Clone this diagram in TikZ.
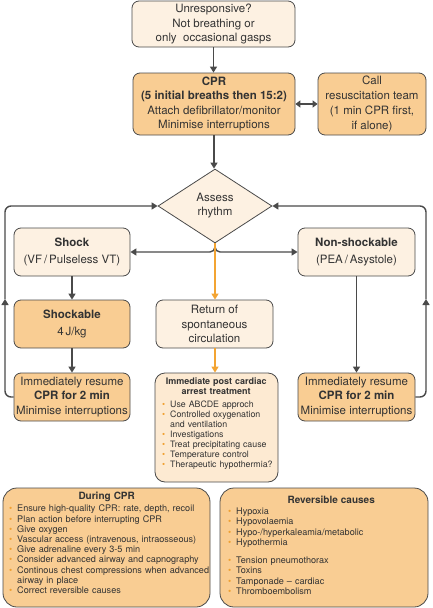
\documentclass[tikz,border=0pt]{standalone}
\usepackage{fontspec}
\setmainfont{TeX Gyre Heros}
\usetikzlibrary{shapes.geometric,arrows.meta}
\definecolor{lightf}{HTML}{FDF1E2}
\definecolor{postf}{HTML}{FDEAD2}
\definecolor{orf}{HTML}{F9CD93}
\definecolor{linec}{HTML}{4A4A4A}
\definecolor{txt}{HTML}{333333}
\definecolor{orl}{HTML}{F3A433}
\definecolor{bulc}{HTML}{F0A030}
\newcommand{\bitm}[1]{\par\hangindent=8pt\hangafter=1\noindent\makebox[8pt][l]{\textcolor{bulc}{\textbullet}}#1}
\begin{document}
\begin{tikzpicture}[x=1pt,y=-1pt,
  box/.style={draw=linec, line width=0.8pt, rounded corners=7pt, align=center, inner sep=0pt,
    font=\fontsize{11.5}{14.3}\selectfont, text=txt},
  light/.style={box, fill=lightf},
  dark/.style={box, fill=orf},
  big/.style={draw=linec, line width=0.8pt, rounded corners=14pt, fill=orf, inner sep=0pt, text=txt},
  arr/.style={draw=linec, line width=1.4pt, -{Triangle[width=7pt,length=6pt]}},
  darr/.style={draw=linec, line width=1.4pt, {Triangle[width=7pt,length=5pt]}-{Triangle[width=7pt,length=5pt]}},
  oarr/.style={draw=orl, line width=1.4pt, -{Triangle[width=7pt,length=6pt]}}
]
\useasboundingbox (0,0) rectangle (432,608);

\node[light, minimum width=163pt, minimum height=46pt] (top) at (213.5,24)
  {Unresponsive?\\Not breathing or\\only\ \ occasional gasps};
\node[dark, minimum width=162pt, minimum height=62pt] (cpr) at (214,104)
  {\textbf{CPR}\\\textbf{(5 initial breaths then 15:2)}\\Attach defibrillator/monitor\\Minimise interruptions};
\node[dark, minimum width=108pt, minimum height=62pt] (call) at (372,104)
  {Call\\resuscitation team\\[1.5pt](1 min CPR first,\\if alone)};
\node[draw=linec, line width=0.8pt, fill=lightf, shape=diamond, aspect=1.54, inner sep=0pt,
  minimum width=114pt, minimum height=74pt, align=center, text=txt,
  font=\fontsize{11.5}{14}\selectfont] (dia) at (215,206) {Assess\\rhythm};
\node[light, font=\fontsize{11.5}{17}\selectfont, minimum width=116pt, minimum height=48pt] (shock) at (72,252)
  {\textbf{Shock}\\(VF\,/\,Pulseless VT)};
\node[light, font=\fontsize{11.5}{17}\selectfont, minimum width=117pt, minimum height=48pt] (nons) at (356.5,252)
  {\textbf{Non-shockable}\\(PEA\,/\,Asystole)};
\node[dark, font=\fontsize{11.5}{17}\selectfont, minimum width=116pt, minimum height=48pt] (shk) at (72,324)
  {\textbf{Shockable}\\4\,J/kg};
\node[light, minimum width=117pt, minimum height=48pt] (ret) at (214.5,324)
  {Return of\\spontaneous\\circulation};
\node[dark, font=\fontsize{11.5}{14.5}\selectfont, minimum width=116pt, minimum height=48pt] (resL) at (72,397)
  {Immediately resume\\\textbf{CPR for 2 min}\\Minimise interruptions};
\node[dark, font=\fontsize{11.5}{14.5}\selectfont, minimum width=117pt, minimum height=48pt] (resR) at (356.5,397)
  {Immediately resume\\\textbf{CPR for 2 min}\\Minimise interruptions};

\node[draw=linec, line width=0.8pt, rounded corners=10pt, fill=postf, text=txt,
  minimum width=123pt, minimum height=109pt, inner sep=0pt] (post) at (216.5,427.5) {};
\node[anchor=north west, text width=118pt, inner sep=0pt, text=txt, font=\fontsize{8.8}{10}\selectfont]
  (posttxt) at (162,378) {%
  {\centering\hspace*{-10pt}\fontsize{9}{9.5}\selectfont\textbf{Immediate post cardiac}\\\hspace*{-10pt}\textbf{arrest treatment}\par}\vspace{3pt}
  \bitm{Use ABCDE approch}
  \bitm{Controlled oxygenation\newline and ventilation}
  \bitm{Investigations}
  \bitm{Treat precipitating cause}
  \bitm{Temperature control}
  \bitm{Therapeutic hypothermia?}};

\node[big, minimum width=207pt, minimum height=119pt] (dur) at (106.5,547.5) {};
\node[anchor=north west, text width=205pt, inner sep=0pt, text=txt, font=\fontsize{9.1}{10.2}\selectfont]
  (durtxt) at (9,492) {%
  {\centering\hspace*{-10pt}\fontsize{10}{12}\selectfont\textbf{During CPR}\par}\vspace{2pt}
  \bitm{Ensure high-quality CPR: rate, depth, recoil}
  \bitm{Plan action before interrupting CPR}
  \bitm{Give oxygen}
  \bitm{Vascular access (intravenous, intraosseous)}
  \bitm{Give adrenaline every 3-5 min}
  \bitm{Consider advanced airway and capnography}
  \bitm{Continous chest compressions when advanced\newline airway in place}
  \bitm{Correct reversible causes}};

\node[big, minimum width=208pt, minimum height=119pt] (rev) at (324,547.5) {};
\node[anchor=north west, text width=190pt, inner sep=0pt, text=txt, font=\fontsize{9.1}{10.5}\selectfont]
  (revtxt) at (228,496) {%
  {\centering\hspace*{16pt}\fontsize{10}{12}\selectfont\textbf{Reversible causes}\par}\vspace{0pt}
  \bitm{Hypoxia}
  \bitm{Hypovolaemia}
  \bitm{Hypo-/hyperkaleamia/metabolic}
  \bitm{Hypothermia}\vspace{7pt}
  \bitm{Tension pneumothorax}
  \bitm{Toxins}
  \bitm{Tamponade -- cardiac}
  \bitm{Thromboembolism}};

% connectors
\draw[arr] (top.south) -- (top.south |- cpr.north);
\draw[darr] (cpr.east) -- (call.west);
\draw[arr] (cpr.south) -- (cpr.south |- dia.north);
\draw[arr, rounded corners=5pt] (dia.south) |- (shock.east);
\draw[arr, rounded corners=5pt] (dia.south) |- (nons.west);
\draw[oarr] (dia.south) -- (dia.south |- ret.north);
\draw[oarr] (ret.south -| dia.south) -- (dia.south |- post.north);
\draw[arr] (shock.south) -- (shk.north);
\draw[arr] (shk.south) -- (resL.north);
\draw[arr] (nons.south) -- (resR.north);
\coordinate (lupL) at (5,299);
\coordinate (lupR) at (426,299);
\draw[arr, rounded corners=6pt] (resL.west) -| (lupL);
\draw[arr, rounded corners=6pt] (lupL) |- (dia.west);
\draw[arr, rounded corners=6pt] (resR.east) -| (lupR);
\draw[arr, rounded corners=6pt] (lupR) |- (dia.east);
\end{tikzpicture}
\end{document}
